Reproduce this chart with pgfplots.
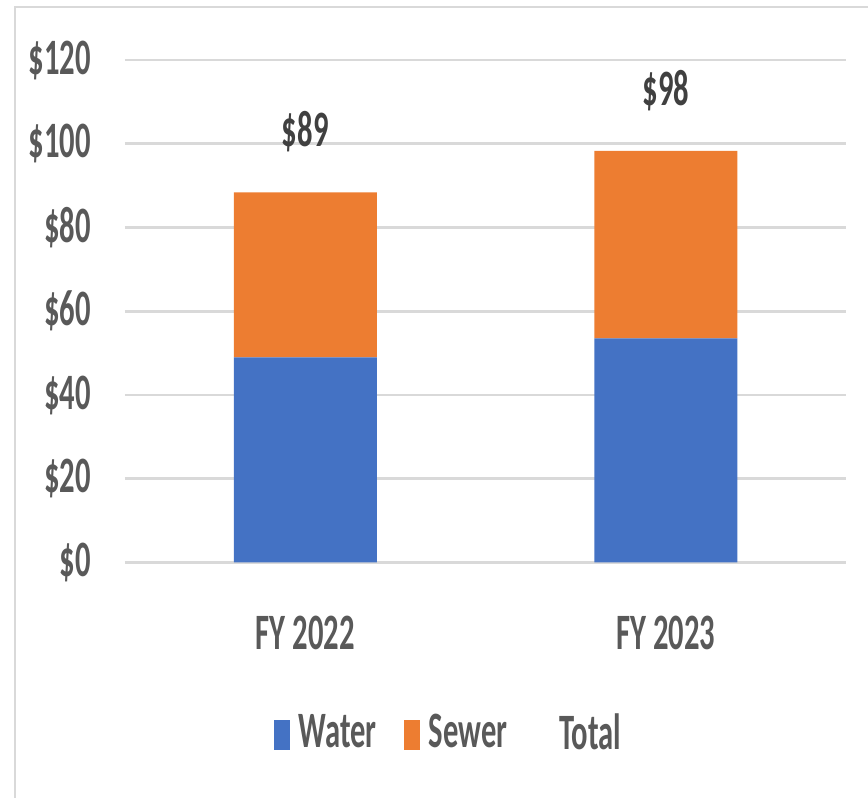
\documentclass[border=0pt]{standalone}
\usepackage{pgfplots}
\pgfplotsset{compat=1.18}
\usepackage{fontspec}
\setmainfont{Carlito}[FakeStretch=0.6, UprightFont=* Bold]
\definecolor{water}{HTML}{4472C4}
\definecolor{sewer}{HTML}{ED7D31}
\definecolor{gridc}{HTML}{D9D9D9}
\definecolor{txt}{HTML}{595959}
\definecolor{lbl}{HTML}{404040}
\begin{document}
\fontsize{51pt}{60pt}\selectfont
\begin{tikzpicture}
\useasboundingbox (0pt,0pt) rectangle (868pt,798pt);
\draw[gridc, line width=2.7pt] (15pt,0pt) -- (15pt,791pt) -- (868pt,791pt);
\begin{axis}[
  at={(125pt,235.5pt)}, anchor=south west,
  width=721pt, height=502.5pt, scale only axis,
  ybar stacked, bar width=143pt,
  xmin=-0.5, xmax=1.5, ymin=0, ymax=120,
  xtick={0,1}, xticklabels={FY 2022, FY 2023},
  ytick={0,20,40,60,80,100,120},
  yticklabels={\$0,\$20,\$40,\$60,\$80,\$100,\$120},
  axis line style={draw=none},
  ymajorgrids, grid style={gridc, line width=2.7pt},
  major tick length=0pt,
  tick label style={text=txt, font=\fontsize{51pt}{60pt}\selectfont},
  yticklabel style={anchor=east, inner sep=0pt, xshift=-34pt},
  xticklabel style={anchor=center, inner sep=0pt, yshift=-70.5pt},
  legend style={draw=none, fill=none, at={(0.4473,-0.3433)}, anchor=center,
    font=\fontsize{51pt}{60pt}\selectfont, text=txt, legend columns=3,
    /tikz/every even column/.append style={column sep=27pt},
    nodes={inner sep=0pt}},
  legend cell align=left,
]
\addplot[fill=water, draw=none, legend image code/.code={\fill[water] (0pt,-15pt) rectangle (16pt,15pt);}] coordinates {(0,49.0) (1,53.5)};
\addlegendentry{\hspace{9pt}Water}
\addplot[fill=sewer, draw=none, legend image code/.code={\fill[sewer] (0pt,-15pt) rectangle (16pt,15pt);}]
  coordinates {(0,39.4) (1,44.8)};
\addlegendentry{\hspace{9pt}Sewer}
\addlegendimage{draw=none, fill=none, legend image code/.code={\path (0pt,-15pt) rectangle (16pt,15pt);}}
\addlegendentry{\hspace{9pt}Total}
\end{axis}
\begin{axis}[
  at={(125pt,235.5pt)}, anchor=south west,
  width=721pt, height=502.5pt, scale only axis,
  xmin=-0.5, xmax=1.5, ymin=0, ymax=120,
  hide axis,
]
\addplot[only marks, mark=none, point meta=explicit symbolic,
  nodes near coords, nodes near coords align={center},
  every node near coord/.style={anchor=center, text=lbl, inner sep=0pt,
    font=\fontsize{51pt}{60pt}\selectfont}]
  coordinates {(0,103.0) [\$89] (1,112.6) [\$98]};
\end{axis}
\end{tikzpicture}
\end{document}
